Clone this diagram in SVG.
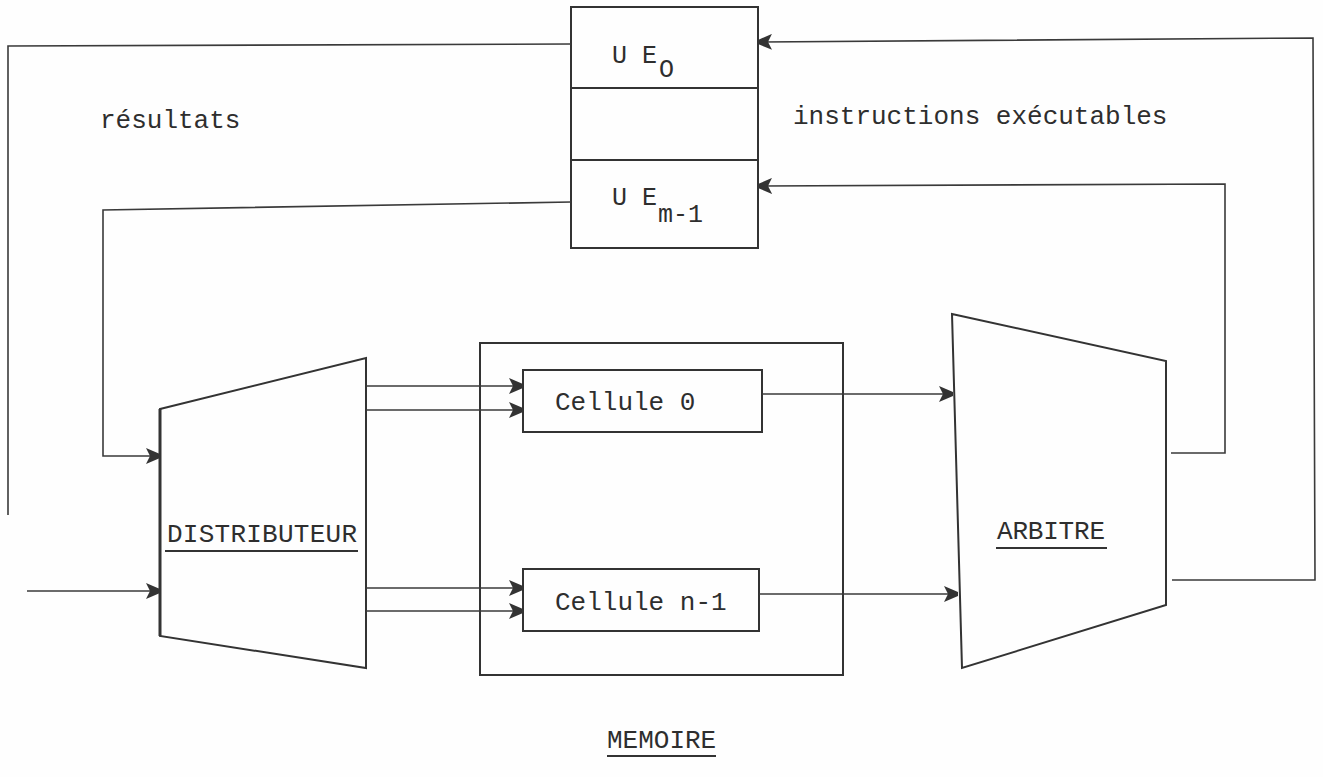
<svg xmlns="http://www.w3.org/2000/svg" width="1323" height="777" viewBox="0 0 1323 777">
<style>
.ln{fill:none;stroke:#3a3a3a;stroke-width:1.6;stroke-linejoin:miter}
.bx{fill:none;stroke:#333;stroke-width:2}
.t{font-family:"Liberation Mono","Courier New",monospace;font-size:26px;fill:#2e2e2e}
.s{font-family:"Liberation Mono","Courier New",monospace;font-size:25px;fill:#2e2e2e}
.u{stroke:#333;stroke-width:2.2}
</style>
<defs>
<marker id="ah" viewBox="0 0 14 16" refX="14" refY="8" markerWidth="14" markerHeight="16" markerUnits="userSpaceOnUse" orient="auto">
<path d="M0,0 L14,6 L14,10 L0,16 L4,8 Z" fill="#333"/>
</marker>
</defs>
<rect width="1323" height="777" fill="#fefefe"/>
<g id="ue">
<rect class="bx" x="571" y="7" width="187" height="241"/>
<line class="bx" x1="571" y1="88" x2="758" y2="88"/>
<line class="bx" x1="571" y1="160" x2="758" y2="160"/>
<text class="s" x="612" y="63">U E</text>
<text class="s" x="659" y="77">O</text>
<text class="s" x="612" y="205">U E</text>
<text class="s" x="658" y="222">m-1</text>
</g>
<g id="distributeur">
<polygon class="bx" points="160,409 366,358 366,668 160,636"/>
<line x1="160" y1="409" x2="160" y2="636" stroke="#333" stroke-width="3"/>
<text class="t" x="167" y="542" textLength="190">DISTRIBUTEUR</text>
<line class="u" x1="165" y1="551" x2="358" y2="551"/>
</g>
<g id="memoire">
<rect class="bx" x="480" y="343" width="363" height="332"/>
<text class="t" x="607" y="748">MEMOIRE</text>
<line class="u" x1="607" y1="756" x2="716" y2="756"/>
</g>
<g id="cellule0">
<rect class="bx" x="523" y="370" width="239" height="62"/>
<text class="t" x="555" y="410">Cellule 0</text>
</g>
<g id="cellulen1">
<rect class="bx" x="523" y="569" width="236" height="62"/>
<text class="t" x="555" y="610">Cellule n-1</text>
</g>
<g id="arbitre">
<polygon class="bx" points="952,314 1166,361 1166,605 962,668"/>
<text class="t" x="997" y="539" textLength="108">ARBITRE</text>
<line class="u" x1="996" y1="548" x2="1107" y2="548"/>
</g>
<g id="labels">
<text class="t" x="100" y="128">résultats</text>
<text class="t" x="793" y="124">instructions exécutables</text>
</g>
<g id="connectors">
<polyline class="ln" points="571,44 8,46 8,515"/>
<polyline class="ln" points="571,202 103,210 103,456 160,456" marker-end="url(#ah)"/>
<line class="ln" x1="27" y1="591" x2="160" y2="591" marker-end="url(#ah)"/>
<line class="ln" x1="366" y1="386" x2="523" y2="386" marker-end="url(#ah)"/>
<line class="ln" x1="366" y1="410" x2="523" y2="410" marker-end="url(#ah)"/>
<line class="ln" x1="366" y1="588" x2="523" y2="588" marker-end="url(#ah)"/>
<line class="ln" x1="366" y1="611" x2="523" y2="611" marker-end="url(#ah)"/>
<line class="ln" x1="762" y1="394" x2="953" y2="394" marker-end="url(#ah)"/>
<line class="ln" x1="759" y1="594" x2="958" y2="594" marker-end="url(#ah)"/>
<polyline class="ln" points="1171,453 1225,453 1225,184 758,186" marker-end="url(#ah)"/>
<polyline class="ln" points="1172,580 1315,580 1313,38 758,42" marker-end="url(#ah)"/>
</g>
</svg>
